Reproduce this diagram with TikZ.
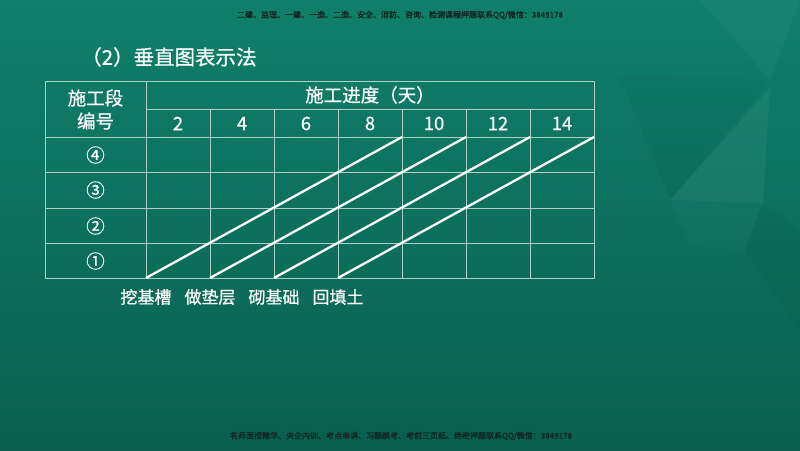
\documentclass[tikz,border=0pt]{standalone}
\usepackage{fontspec}
\setmainfont{Noto Sans CJK SC}
\newfontfamily\medfont{Noto Sans CJK SC}[FakeBold=0.7]
\newfontfamily\darkfont{Noto Sans CJK SC}[FakeBold=1.2]
\definecolor{bgtop}{HTML}{0F806B}
\definecolor{bgbot}{HTML}{0A5F4E}
\definecolor{gridc}{HTML}{ADD0C6}
\definecolor{darktxt}{HTML}{10261F}
\begin{document}
\begin{tikzpicture}[x=1pt,y=-1pt,
  grid/.style={draw=gridc,line width=0.85pt},
  diag/.style={draw=white,line width=2.3pt},
  hdr/.style={text=white,inner sep=0pt,font=\medfont\fontsize{18.5}{23}\selectfont,align=center},
  num/.style={text=white,inner sep=0pt,font=\medfont\fontsize{18.5}{22}\selectfont},
  circ/.style={text=white,inner sep=0pt,font=\medfont\fontsize{18.5}{22}\selectfont},
  lbl/.style={text=white,inner sep=0pt,font=\medfont\fontsize{17}{20}\selectfont},
  small/.style={text=darktxt,inner sep=0pt,font=\darkfont\fontsize{8}{9}\selectfont}]
\useasboundingbox (0,0) rectangle (800,450);
\shade[top color=bgtop,bottom color=bgbot] (0,0) rectangle (800,450);
% faint decorative facets
\fill[white,opacity=0.05] (670,200) -- (770,88) -- (763,203) -- cycle;
\fill[black,opacity=0.035] (620,77) -- (770,80) -- (670,200) -- cycle;
\fill[white,opacity=0.03] (700,0) -- (800,0) -- (770,80) -- cycle;
\fill[black,opacity=0.035] (763,203) -- (800,230) -- (800,330) -- (745,250) -- cycle;
\fill[white,opacity=0.02] (670,200) -- (763,203) -- (745,250) -- (690,245) -- cycle;
% header texts
\node[small] (top) at (400,15) {二建、监理、一建、一造、二造、安全、消防、咨询、检测课程押题联系QQ/微信：3849178};
\node[small] (bot) at (401,436) {名师面授精华、央企内训、考点串讲、习题模考、考前三页纸、绝密押题联系QQ/微信：3849178};
\node[text=white,inner sep=0pt,anchor=west,font=\medfont\fontsize{20.5}{24}\selectfont] (title) at (81,57) {（2）垂直图表示法};
% grid
\draw[grid] (45,81) rectangle (594,278);
\draw[grid] (146,81) -- (146,278);
\draw[grid] (146,109) -- (594,109);
\foreach \y in {137,172,208,243} \draw[grid] (45,\y) -- (594,\y);
\foreach \x in {210,274,338,402,466,530} \draw[grid] (\x,109) -- (\x,278);
% header cells
\node[hdr] (seg) at (95.5,109.5) {施工段\\编号};
\node[hdr] (prog) at (370,95) {施工进度（天）};
\foreach \t [count=\i] in {2,4,6,8,10,12,14}
  \node[num] (d\t) at (114+64*\i,123.5) {\t};
\node[circ] (r4) at (95.5,155) {④};
\node[circ] (r3) at (95.5,190) {③};
\node[circ] (r2) at (95.5,226) {②};
\node[circ] (r1) at (95.5,261) {①};
% diagonals
\coordinate (a0) at (146,278); \coordinate (a1) at (402,137);
\coordinate (b0) at (210,278); \coordinate (b1) at (466,137);
\coordinate (c0) at (274,278); \coordinate (c1) at (530,137);
\coordinate (e0) at (338,278); \coordinate (e1) at (594,137);
\draw[diag] (a0) -- (a1);
\draw[diag] (b0) -- (b1);
\draw[diag] (c0) -- (c1);
\draw[diag] (e0) -- (e1);
% labels
\node[lbl] (l1) at (146,297) {挖基槽};
\node[lbl] (l2) at (210,297) {做垫层};
\node[lbl] (l3) at (274,297) {砌基础};
\node[lbl] (l4) at (338,297) {回填土};
\end{tikzpicture}
\end{document}
